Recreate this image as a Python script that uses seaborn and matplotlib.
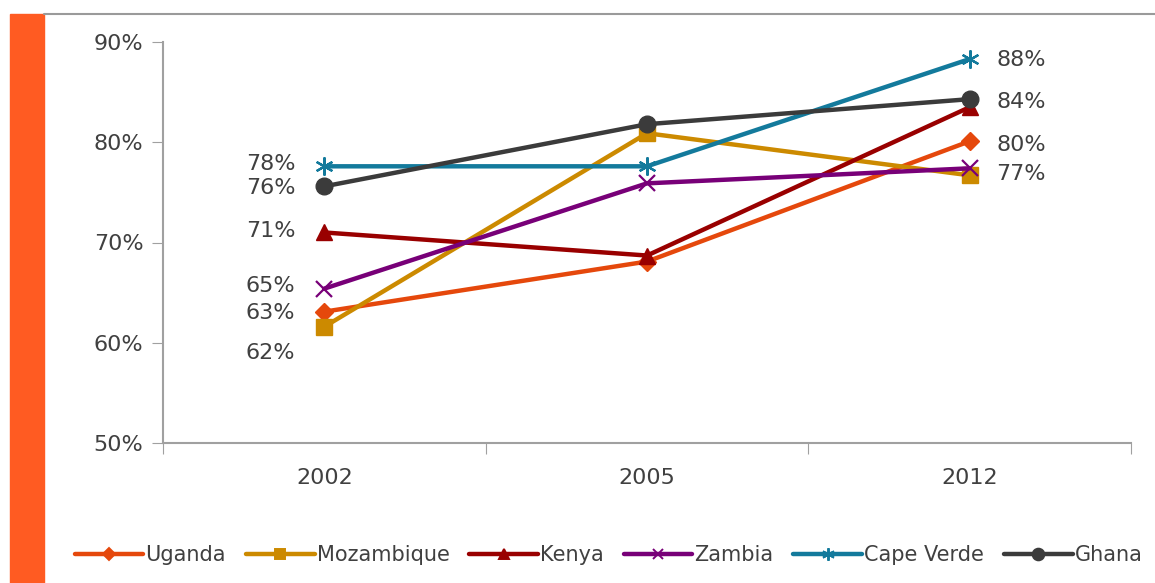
import pandas as pd
import numpy as np
import seaborn as sns
import matplotlib.pyplot as plt
from matplotlib.patches import Rectangle
from matplotlib.lines import Line2D

years = ["2002", "2005", "2012"]
countries = ["Uganda", "Mozambique", "Kenya", "Zambia", "Cape Verde", "Ghana"]
uganda = [63.1, 68.1, 80.1]
mozambique = [61.6, 80.9, 76.7]
kenya = [71.0, 68.7, 83.5]
zambia = [65.4, 75.9, 77.4]
cape_verde = [77.6, 77.6, 88.3]
ghana = [75.6, 81.8, 84.3]

colors = ["#E5480C", "#CC8A00", "#990000", "#780078", "#137A9C", "#3B3B3B"]
markers = ["D", "s", "^", "x", (6, 2, 0), "o"]
msizes = [9, 11, 11, 11, 13, 12]

rows = []
for c, vals in zip(countries, [uganda, mozambique, kenya, zambia, cape_verde, ghana]):
    for i, v in enumerate(vals):
        rows.append({"country": c, "pos": i, "year": years[i], "value": v})
df = pd.DataFrame(rows)

sns.set_style("white")
plt.rcParams["font.family"] = ["DejaVu Sans"]
txt = "#404040"

fig = plt.figure(figsize=(11.55, 5.83), dpi=100)
ax = fig.add_axes([163/1155, 140/583, (1131-163)/1155, (443-42)/583])

for c, col, m, ms in zip(countries, colors, markers, msizes):
    sub = df[df.country == c]
    sns.lineplot(data=sub, x="pos", y="value", color=col, lw=3.2, marker=m,
                 markersize=ms, markeredgecolor=col, markeredgewidth=1.6 if m in ("x", (6, 2, 0)) else 1,
                 ax=ax, legend=False)

ax.set_xlim(-0.5, 2.5)
ax.set_ylim(50, 90)
ax.set_xticks([-0.5, 0.5, 1.5, 2.5])
ax.set_xticklabels([])
ax.set_xticks([0, 1, 2], minor=True)
ax.set_xticklabels(years, minor=True)
ax.tick_params(axis="x", which="major", direction="out", length=8, color="#A0A0A0", bottom=True)
ax.tick_params(axis="x", which="minor", length=0, pad=18, labelsize=16, labelcolor=txt)
ax.set_yticks([50, 60, 70, 80, 90])
ax.set_yticklabels([f"{v}%" for v in [50, 60, 70, 80, 90]])
ax.tick_params(axis="y", direction="out", length=8, color="#A0A0A0", left=True, labelsize=16, labelcolor=txt, pad=6)
for s in ["top", "right"]:
    ax.spines[s].set_visible(False)
for s in ["left", "bottom"]:
    ax.spines[s].set_color("#A0A0A0")
    ax.spines[s].set_linewidth(1.5)
ax.set_xlabel(None)
ax.set_ylabel(None)

# data labels: (series values, dy in points)
left_labels = [(cape_verde, 2), (ghana, -1), (kenya, 1), (zambia, 2), (uganda, -1), (mozambique, -19)]
for vals, dy in left_labels:
    ax.annotate(f"{round(vals[0]):.0f}%", (0, vals[0]), xytext=(-21, dy), textcoords="offset points",
                ha="right", va="center", fontsize=16, color=txt)
right_labels = [(cape_verde, -1), (ghana, -2), (uganda, -3), (zambia, -4)]
for vals, dy in right_labels:
    ax.annotate(f"{round(vals[2]):.0f}%", (2, vals[2]), xytext=(19, dy), textcoords="offset points",
                ha="left", va="center", fontsize=16, color=txt)

handles = [Line2D([0], [0], color=col, lw=3.2, marker=m, markersize=ms*0.7,
                  markeredgecolor=col, markeredgewidth=1.4)
           for col, m, ms in zip(colors, markers, msizes)]
fig.legend(handles, countries, loc="center", bbox_to_anchor=(0.527, (583-555)/583),
           ncol=6, frameon=False, fontsize=15, handlelength=3.3, handletextpad=0.1,
           columnspacing=0.95, labelcolor=txt)

fig.patches.append(Rectangle((10/1155, 0), 34/1155, (583-14)/583, transform=fig.transFigure,
                             color="#FF5B22", zorder=0))
fig.lines.append(Line2D([44/1155, 1], [(583-14)/583]*2, transform=fig.transFigure,
                        color="#9A9A9A", lw=1.5))

fig.savefig("out.png", dpi=100)
